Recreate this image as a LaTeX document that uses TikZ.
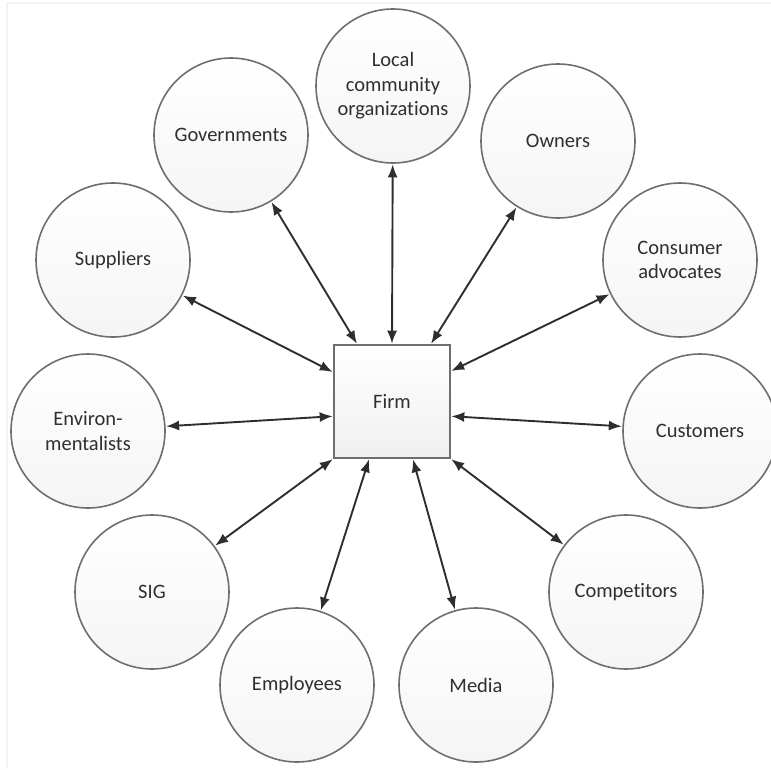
\documentclass[tikz,border=0pt]{standalone}
\usepackage{fontspec}
\setmainfont{Carlito}[Ligatures=NoCommon]
\usepackage{xcolor}
\definecolor{vizText}{HTML}{2F2F2F}
\definecolor{vizEdge}{HTML}{6E6E6E}
\definecolor{vizArrow}{HTML}{2E2E2E}
\definecolor{vizFrame}{HTML}{F3F3F3}
\usetikzlibrary{arrows.meta}

\tikzset{
  party/.style={circle, draw=vizEdge, line width=1.6pt, minimum size=154pt,
    top color=white, bottom color=black!4, align=center, text=vizText,
    font=\fontsize{20.5}{24.5}\selectfont, inner sep=0pt},
  firmbox/.style={rectangle, draw=vizEdge, line width=1.6pt,
    minimum width=116pt, minimum height=113pt,
    top color=white, bottom color=black!6, text=vizText,
    font=\fontsize{20.5}{24.5}\selectfont},
  link/.style={{Latex[length=13pt,width=10pt]}-{Latex[length=13pt,width=10pt]},
    draw=vizArrow, line width=1.9pt, shorten <=0.5pt, shorten >=0.5pt}
}

\begin{document}
\begin{tikzpicture}[x=1pt, y=-1pt]
  \useasboundingbox (0,0) rectangle (771,769);
  \draw[vizFrame, line width=2pt] (7,3) -- (771,3);
  \draw[vizFrame, line width=2pt] (7,3) -- (7,769);

  % the firm in the middle
  \node[firmbox] (firm) at (392,401.5) {Firm};

  % stakeholders round it
  \node[party] (local) at (393,86) {Local\\community\\organizations};
  \node[party] (gov) at (231,135) {Governments};
  \node[party] (owners) at (558,141) {Owners};
  \node[party] (suppliers) at (113,260) {Suppliers};
  \node[party] (advocates) at (680,260) {Consumer\\advocates};
  \node[party] (enviro) at (88,431) {Environ-\\mentalists};
  \node[party] (customers) at (700,431) {Customers};
  \node[party] (sig) at (152,592) {SIG};
  \node[party] (competitors) at (626,592) {Competitors};
  \node[party] (employees) at (297,685) {Employees};
  \node[party] (media) at (476,685) {Media};

  % two-way links
  \draw[link] ([xshift=24pt]firm.north west) -- (gov);
  \draw[link] (firm.north) -- (local);
  \draw[link] ([xshift=-20pt]firm.north east) -- (owners);
  \draw[link] ([yshift=-27pt]firm.north east) -- (advocates);
  \draw[link] ([yshift=-72pt]firm.north east) -- (customers);
  \draw[link] (firm.south east) -- (competitors);
  \draw[link] ([xshift=-38pt]firm.south east) -- (media);
  \draw[link] ([xshift=36pt]firm.south west) -- (employees);
  \draw[link] (firm.south west) -- (sig);
  \draw[link] ([yshift=-72pt]firm.north west) -- (enviro);
  \draw[link] ([yshift=-28pt]firm.north west) -- (suppliers);
\end{tikzpicture}
\end{document}
